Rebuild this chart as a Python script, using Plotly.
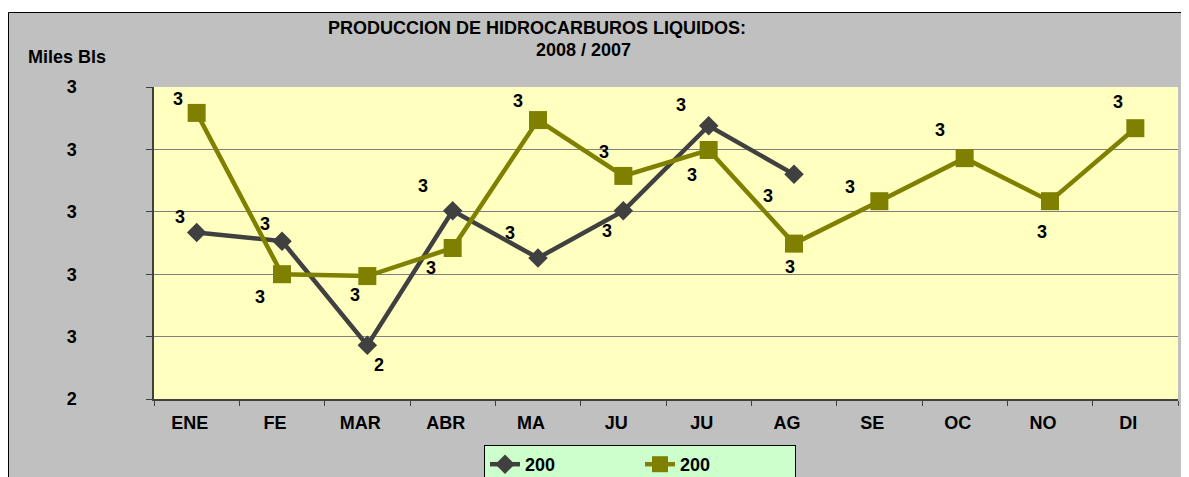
import plotly.graph_objects as go

# ---------------- data ----------------
months = ["ENE", "FE", "MAR", "ABR", "MA", "JU", "JU", "AG", "SE", "OC", "NO", "DI"]
series_names = ["200", "200"]          # legend text as shown (truncated)
prod_2008 = [2.834, 2.806, 2.472, 2.903, 2.752, 2.903, 3.176, 3.020]
prod_2007 = [3.217, 2.700, 2.694, 2.784, 3.194, 3.015, 3.098, 2.798, 2.934, 3.072, 2.934, 3.168]
y_tickvals = [2.3, 2.5, 2.7, 2.9, 3.1, 3.3]
y_ticktext = ["2", "3", "3", "3", "3", "3"]
title_line1 = "PRODUCCION DE HIDROCARBUROS LIQUIDOS:"
title_line2 = "2008 / 2007"
y_title = "Miles Bls"

# ---------------- styles ----------------
FONT = "Liberation Sans, Arial, sans-serif"
FS = 18
C2008 = "#404040"
C2007 = "#808000"
# label offsets (pixels: dx right, dy down)
off_2008 = [(-17, -15), (-17, -17), (12, 20), (-30, -25), (-28, -25), (-16, 20), (-28, -21), (-26, 22)]
off_2007 = [(-19, -14), (-22, 23), (-12, 19), (-22, 20), (-20, -19), (-19, -24), (-17, 25), (-4, 23),
            (-29, -14), (-25, -28), (-8, 31), (-17, -26)]

x_idx = list(range(len(months)))

fig = go.Figure()
fig.add_trace(go.Scatter(
    x=x_idx[:len(prod_2008)], y=prod_2008, name=series_names[0], mode="lines+markers",
    line=dict(color=C2008, width=4.5),
    marker=dict(symbol="diamond", size=15, color=C2008),
))
fig.add_trace(go.Scatter(
    x=x_idx[:len(prod_2007)], y=prod_2007, name=series_names[1], mode="lines+markers",
    line=dict(color=C2007, width=4.5),
    marker=dict(symbol="square", size=18, color=C2007),
))

annotations = []
for vals, offs in ((prod_2008, off_2008), (prod_2007, off_2007)):
    for i, (v, (dx, dy)) in enumerate(zip(vals, offs)):
        annotations.append(dict(
            x=i, y=v, xref="x", yref="y", text=f"{v:.0f}", showarrow=False,
            xshift=dx, yshift=-dy,
            font=dict(family=FONT, size=FS, color="black", weight="bold"),
        ))

# the page body adds an 8px margin, so the figure starts at screen (8, 8)
OFF = 8
W, H = 1189 - OFF, 477 - OFF
L, R, T, B = 154 - OFF, 11, 87 - OFF, 78
pw, ph = W - L - R, H - T - B

def px(xs):
    return (xs - OFF - L) / pw

def py(ys):
    return (H - B - (ys - OFF)) / ph

annotations += [
    dict(xref="paper", yref="paper", x=px(537), y=py(28), text=title_line1, showarrow=False,
         xanchor="center", yanchor="middle", font=dict(family=FONT, size=FS, color="black", weight="bold")),
    dict(xref="paper", yref="paper", x=px(583), y=py(50), text=title_line2, showarrow=False,
         xanchor="center", yanchor="middle", font=dict(family=FONT, size=FS, color="black", weight="bold")),
    dict(xref="paper", yref="paper", x=px(67), y=py(57), text=y_title, showarrow=False,
         xanchor="center", yanchor="middle", font=dict(family=FONT, size=FS, color="black", weight="bold")),
]

fig.update_layout(
    width=W, height=H,
    margin=dict(l=L, r=R, t=T, b=B, pad=0, autoexpand=False),
    paper_bgcolor="#C0C0C0",
    plot_bgcolor="#FFFFC0",
    showlegend=True,
    legend=dict(
        orientation="h", x=px(484), y=py(445), xanchor="left", yanchor="top",
        bgcolor="#CCFFCC", bordercolor="black", borderwidth=1,
        entrywidth=110, entrywidthmode="pixels",
        font=dict(family=FONT, size=FS, color="black", weight="bold"),
    ),
    shapes=[
        # white strip above the chart frame
        dict(type="rect", xref="paper", yref="paper",
             x0=px(0), x1=px(1200), y0=py(12), y1=py(0),
             fillcolor="white", line=dict(width=0), layer="above"),
        # chart frame (top & left edges visible)
        dict(type="rect", xref="paper", yref="paper",
             x0=px(8.5), x1=px(1200), y0=py(490), y1=py(12.5),
             fillcolor="rgba(0,0,0,0)", line=dict(color="black", width=1), layer="above"),
    ],
    annotations=annotations,
    xaxis=dict(
        range=[-0.5, len(months) - 0.5],
        tickmode="array", tickvals=x_idx, ticktext=months,
        ticks="", showgrid=False, zeroline=False,
        showline=True, linecolor="#404040", linewidth=1.5,
        tickfont=dict(family=FONT, size=FS, color="black", weight="bold"),
        ticklabelshift=-7, ticklabelstandoff=7,
        minor=dict(tickmode="array", tickvals=[i - 0.5 for i in range(len(months) + 1)],
                   ticks="outside", ticklen=5, tickcolor="#404040", tickwidth=1, showgrid=False),
        fixedrange=True,
    ),
    yaxis=dict(
        range=[y_tickvals[0], y_tickvals[-1]],
        tickmode="array", tickvals=y_tickvals, ticktext=y_ticktext,
        ticks="outside", ticklen=6, tickcolor="#404040",
        showgrid=True, gridcolor="#808080", gridwidth=1, zeroline=False,
        showline=True, linecolor="#404040", linewidth=1.5,
        tickfont=dict(family=FONT, size=FS, color="black", weight="bold"),
        ticklabelstandoff=66,
        fixedrange=True,
    ),
)

fig.write_html("out.html")
